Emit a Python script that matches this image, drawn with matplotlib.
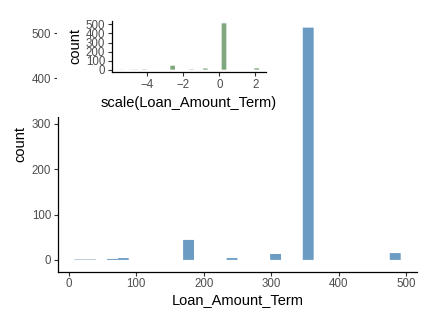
import numpy as np
import matplotlib
matplotlib.use("Agg")
import matplotlib.pyplot as plt
from matplotlib.patches import Rectangle

# loan terms (months) and how many loans have each term
terms = [12, 36, 60, 84, 180, 240, 300, 360, 480]
counts = [1, 1, 2, 4, 44, 4, 13, 512, 15]

x_ticks = [0, 100, 200, 300, 400, 500]
y_ticks = [0, 100, 200, 300, 400, 500]
inset_x_ticks = [-4, -2, 0, 2]
inset_y_ticks = [0, 100, 200, 300, 400, 500]

plt.rcParams["font.family"] = ["Liberation Sans", "DejaVu Sans"]


def gg_bins(x, n=30):
	# same breaks as ggplot2 geom_histogram(bins = 30)
	lo, hi = x.min(), x.max()
	w = (hi - lo) / (n - 1)
	boundary = w / 2
	shift = np.floor((lo - boundary) / w)
	origin = boundary + shift * w
	k = int(np.ceil((hi - origin) / w))
	return origin + w * np.arange(k + 1)


def style(ax):
	for s in ["top", "right"]:
		ax.spines[s].set_visible(False)
	for s in ["left", "bottom"]:
		ax.spines[s].set_linewidth(0.9)
	ax.tick_params(length=3, width=0.8, color="#333333", labelcolor="#4d4d4d",
		labelsize=8.3, pad=2)


def expand(ax, edges, top):
	span = edges[-1] - edges[0]
	ax.set_xlim(edges[0] - 0.05 * span, edges[-1] + 0.05 * span)
	ax.set_ylim(-0.05 * top, 1.05 * top)


values = np.repeat(terms, counts).astype(float)
scaled = (values - values.mean()) / values.std(ddof=1)

fig = plt.figure(figsize=(4.33, 3.21), dpi=100)

ax = fig.add_axes([58 / 433, 49.5 / 321, 359 / 433, 255.5 / 321])
edges = gg_bins(values)
n, _, bars = ax.hist(values, bins=edges, color="steelblue", alpha=0.8)
for b in bars:
	b.set_snap(False)
expand(ax, edges, n.max())
ax.set_xticks(x_ticks)
ax.set_yticks(y_ticks)
ax.set_xlabel("Loan_Amount_Term", fontsize=10.5, labelpad=2)
ax.set_ylabel("count", fontsize=10.5, labelpad=3)
style(ax)
ax.set_zorder(1)

# white backing behind the inset
bg = Rectangle((57.4 / 433, 204 / 321), 233 / 433, 117 / 321, transform=fig.transFigure,
	facecolor="white", edgecolor="none", zorder=2)
fig.patches.append(bg)

ins = fig.add_axes([112 / 433, 249 / 321, 154 / 433, 51 / 321])
ins.set_zorder(3)
ins.patch.set_alpha(0)
edges2 = gg_bins(scaled)
n2, _, bars2 = ins.hist(scaled, bins=edges2, color="#5f925f", alpha=0.8)
for b in bars2:
	b.set_snap(False)
expand(ins, edges2, n2.max())
ins.set_xticks(inset_x_ticks)
ins.set_yticks(inset_y_ticks)
ins.set_xlabel("scale(Loan_Amount_Term)", fontsize=10.5, labelpad=4)
ins.set_ylabel("count", fontsize=10.5, labelpad=2)
style(ins)

fig.savefig("out.png", dpi=100)
